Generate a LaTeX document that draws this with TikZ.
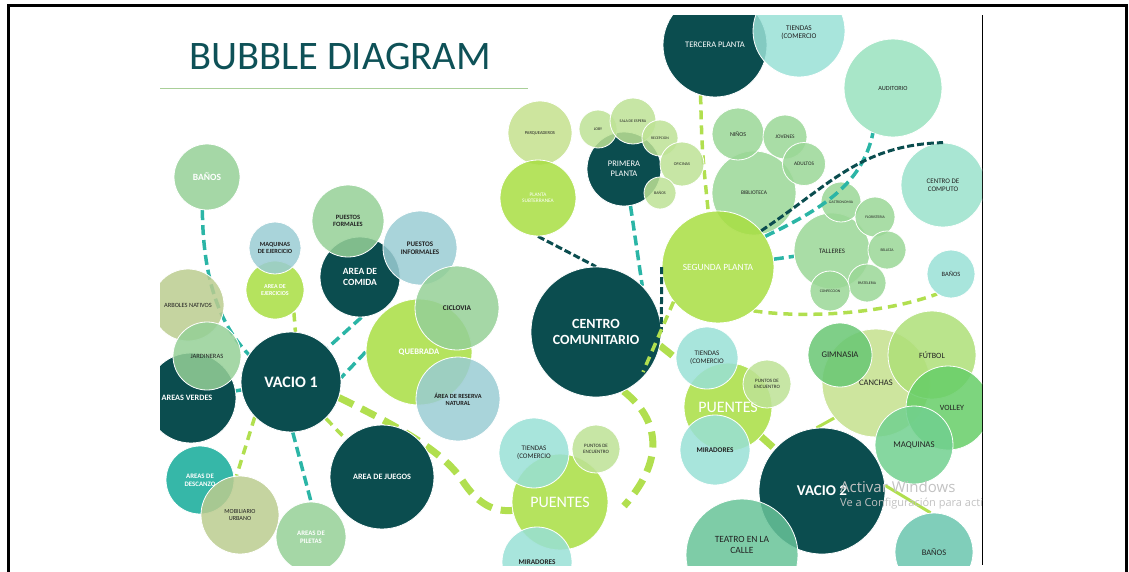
\documentclass[tikz,border=0pt]{standalone}
\usepackage{fontspec}
\setmainfont{Carlito}
\newfontfamily\winfont{Open Sans}
\usetikzlibrary{positioning}
\pgfdeclarelayer{back}
\pgfsetlayers{back,main}
\newcommand{\fsz}[1]{\fontsize{#1}{\fpeval{#1*1.15}}\selectfont}

\definecolor{darkteal}{HTML}{0B4D4F}
\definecolor{titlecol}{HTML}{0E5157}
\definecolor{rulecol}{HTML}{A9CF98}
\definecolor{inkcol}{HTML}{222222}
\definecolor{sagecol}{HTML}{95D097}
\definecolor{paleblue}{HTML}{9ACCD3}
\definecolor{khakicol}{HTML}{BBCC8F}
\definecolor{tealmid}{HTML}{2BB3A3}
\definecolor{limecol}{HTML}{A8DE42}
\definecolor{palelime}{HTML}{C4E08D}
\definecolor{lightlime}{HTML}{BDE295}
\definecolor{aquacol}{HTML}{99E0D6}
\definecolor{mintcol}{HTML}{99E2BE}
\definecolor{greencol}{HTML}{9AD796}
\definecolor{computocol}{HTML}{9AE2CB}
\definecolor{gimcol}{HTML}{68C773}
\definecolor{futcol}{HTML}{AEDF78}
\definecolor{volcol}{HTML}{66CE67}
\definecolor{maqcol}{HTML}{71D08F}
\definecolor{teatrocol}{HTML}{67C398}
\definecolor{banobrcol}{HTML}{6AC5AE}
\definecolor{dashteal}{HTML}{2BB5A6}
\definecolor{dashlime}{HTML}{B1DF4F}
\definecolor{wmarkcol}{HTML}{C2C2C2}

\tikzset{
  bubble/.style   = {circle, inner sep=0pt, draw=white, line width=0.8pt, fill opacity=0.85, text opacity=1, align=center, text=inkcol},
  rad/.style      = {minimum size=2*#1pt},
  wt/.style       = {text=white},
  dk/.style       = {bubble, fill=darkteal, fill opacity=1, text=white},
  lm/.style       = {bubble, fill=limecol, text=white},
  sg/.style       = {bubble, fill=sagecol},
  pb/.style       = {bubble, fill=paleblue},
  kh/.style       = {bubble, fill=khakicol},
  tl/.style       = {bubble, fill=tealmid, fill opacity=0.95, text=white},
  pl/.style       = {bubble, fill=palelime},
  ll/.style       = {bubble, fill=lightlime},
  aq/.style       = {bubble, fill=aquacol},
  mn/.style       = {bubble, fill=mintcol},
  gr/.style       = {bubble, fill=greencol},
  tealdash/.style = {draw=dashteal, line width=3.5pt, dash pattern=on 10pt off 5pt},
  limedash/.style = {draw=dashlime, line width=3.5pt, dash pattern=on 9pt off 6pt},
  darkdash/.style = {draw=darkteal, line width=3pt, dash pattern=on 7pt off 3pt},
  fatlime/.style  = {draw=dashlime, line width=7pt, dash pattern=on 16pt off 9pt},
  limeline/.style = {draw=dashlime, line width=3pt},
  wmark/.style    = {text=wmarkcol, anchor=west, inner sep=0pt}
}

\begin{document}
\begin{tikzpicture}[x=1pt,y=-1pt]
  \useasboundingbox (0,0) rectangle (1129,571);
  % frame
  \draw[line width=3pt] (8,580) -- (8,5) -- (1126,5) -- (1126,580);
  \draw[line width=0.8pt] (982,15) -- (982,565);

  \begin{scope}
    \clip (160,15) rectangle (982,565);
    \node[text=titlecol, font=\fsz{40.5}, inner sep=0pt] (title) at (340,57) {BUBBLE DIAGRAM};
    \draw[rulecol, line width=1pt] (160,88) -- (528,88);

    % vacio 1 group
    \node[sg, wt, rad=33, font=\fsz{9.5}\bfseries] (banosL) at (207,177) {BAÑOS};
    \node[kh, rad=36, font=\fsz{6.4}] (arboles) at (188,305) {ARBOLES NATIVOS};
    \node[dk, rad=45, font=\fsz{8.2}\bfseries] (verdes) at (191,398) {\hspace*{-8pt}AREAS VERDES};
    \node[sg, rad=34, font=\fsz{6.5}] (jardin) at (207,356) {JARDINERAS};
    \node[lm, rad=29, font=\fsz{6}\bfseries] (ejerc) at (275,290) {AREA DE\\EJERCICIOS};
    \node[pb, rad=26, font=\fsz{6.3}\bfseries] (maqEj) at (275,248) {MAQUINAS\\DE EJERCICIO};
    \node[dk, rad=40, font=\fsz{9.5}\bfseries] (comida) at (360,277) {AREA DE\\COMIDA};
    \node[sg, rad=36, font=\fsz{6.5}\bfseries] (formales) at (348,221) {PUESTOS\\FORMALES};
    \node[pb, rad=37, font=\fsz{7}\bfseries] (informales) at (420,248) {PUESTOS\\INFORMALES};
    \node[lm, rad=53, font=\fsz{8.5}\bfseries] (quebrada) at (419,352) {QUEBRADA};
    \node[sg, rad=42, font=\fsz{7.3}\bfseries] (ciclovia) at (457,308) {CICLOVIA};
    \node[pb, rad=42, font=\fsz{6.3}\bfseries] (reserva) at (458,399) {ÁREA DE RESERVA\\NATURAL};
    \node[dk, rad=50, font=\fsz{16}\bfseries] (vacio1) at (291,382) {VACIO 1};
    \node[dk, rad=52, font=\fsz{8.2}\bfseries] (juegos) at (382,477) {AREA DE JUEGOS};
    \node[tl, rad=34, font=\fsz{6.8}\bfseries] (descanzo) at (200,480) {AREAS DE\\DESCANZO};
    \node[kh, rad=39, font=\fsz{6.2}] (mobil) at (240,515) {MOBILIARIO\\URBANO};
    \node[sg, wt, rad=35, font=\fsz{6.8}\bfseries] (piletas) at (311,537) {AREAS DE\\PILETAS};

    % centro comunitario group
    \node[dk, rad=65, font=\fsz{14}\bfseries] (centro) at (596,332) {CENTRO\\COMUNITARIO};
    \node[pl, rad=32, font=\fsz{4.5}] (parq) at (540,133) {PARQUEADEROS};
    \node[lm, rad=38, font=\fsz{5.3}] (plantaSub) at (538,198) {PLANTA\\SUBTERRANEA};
    \node[dk, rad=37, font=\fsz{8.5}] (primera) at (624,169) {PRIMERA\\PLANTA};
    \node[ll, rad=19, font=\fsz{4}] (loby) at (598,129) {LOBY};
    \node[ll, rad=23, font=\fsz{4}] (sala) at (633,121) {SALA DE ESPERA};
    \node[ll, rad=18, font=\fsz{3.8}] (recep) at (660,138) {RECEPCION};
    \node[ll, rad=22, font=\fsz{4.2}] (oficinas) at (682,164) {OFICINAS};
    \node[ll, rad=16, font=\fsz{4}] (banosP) at (660,193) {BAÑOS};
    \node[dk, rad=52, font=\fsz{8.5}] (tercera) at (715,45) {TERCERA PLANTA};
    \node[aq, rad=46, font=\fsz{7.3}] (tiendasT) at (799,31) {\\TIENDAS\\(COMERCIO};
    \node[mn, rad=49, font=\fsz{6.3}] (auditorio) at (893,88) {AUDITORIO};
    \node[gr, rad=42, font=\fsz{5.5}] (biblio) at (754,193) {BIBLIOTECA};
    \node[gr, rad=26, font=\fsz{6}] (ninos) at (738,134) {NIÑOS};
    \node[gr, rad=22, font=\fsz{5.3}] (jovenes) at (785,137) {JOVENES};
    \node[gr, rad=21.5, font=\fsz{5.3}] (adultos) at (804,164) {ADULTOS};
    \node[bubble, fill=computocol, rad=42, font=\fsz{7}] (computo) at (943,185) {CENTRO DE\\COMPUTO};
    \node[lm, rad=56, font=\fsz{9.5}] (segunda) at (718,267) {SEGUNDA PLANTA};
    \node[gr, rad=38, font=\fsz{6.8}] (talleres) at (832,251) {TALLERES};
    \node[gr, rad=20, font=\fsz{3.8}] (gastro) at (841,202) {GASTRONOMIA};
    \node[gr, rad=20, font=\fsz{3.8}] (floris) at (875,217) {FLORISTERIA};
    \node[gr, rad=19, font=\fsz{3.8}] (belleza) at (887,250) {BELLEZA};
    \node[gr, rad=19, font=\fsz{3.8}] (pastel) at (867,283) {PASTELERIA};
    \node[gr, rad=20, font=\fsz{3.8}] (confec) at (830,291) {CONFECCION};
    \node[aq, rad=24, font=\fsz{6.5}] (banosR) at (951,274) {BAÑOS};

    % puentes
    \node[lm, rad=44, font=\fsz{16}] (puentesM) at (728,407) {PUENTES};
    \node[aq, rad=31, font=\fsz{7}] (tiendasM) at (707,358) {TIENDAS\\(COMERCIO};
    \node[ll, rad=24, font=\fsz{5}] (puntosM) at (767,384) {PUNTOS DE\\ENCUENTRO};
    \node[aq, rad=35, font=\fsz{7.2}\bfseries] (miradoresM) at (715,450) {MIRADORES};
    \node[lm, rad=48, font=\fsz{16}] (puentesB) at (560,502) {PUENTES};
    \node[aq, rad=35, font=\fsz{7}] (tiendasB) at (534,453) {TIENDAS\\(COMERCIO};
    \node[ll, rad=24, font=\fsz{5}] (puntosB) at (596,449) {PUNTOS DE\\ENCUENTRO};
    \node[aq, rad=35, font=\fsz{7.2}\bfseries] (miradoresB) at (537,562) {MIRADORES};

    % vacio 2 group
    \node[dk, rad=63, font=\fsz{15}\bfseries] (vacio2) at (822,491) {VACIO 2};
    \node[bubble, fill=teatrocol, rad=56, font=\fsz{9.5}, text depth=20pt] (teatro) at (742,555) {TEATRO EN LA\\CALLE};
    \node[pl, rad=54, font=\fsz{8.5}] (canchas) at (876,383) {CANCHAS};
    \node[bubble, fill=gimcol, rad=32, font=\fsz{8.7}] (gimnasia) at (840,355) {GIMNASIA};
    \node[bubble, fill=futcol, rad=44, font=\fsz{8}] (futbol) at (932,355) {FÚTBOL};
    \node[bubble, fill=volcol, rad=42, font=\fsz{8}] (volley) at (948,408) {\hspace*{8pt}VOLLEY};
    \node[bubble, fill=maqcol, rad=39, font=\fsz{8.8}] (maquinas) at (914,445) {MAQUINAS};
    \node[bubble, fill=banobrcol, rad=39, font=\fsz{8.5}] (banosBR) at (934,552) {BAÑOS};

    \coordinate (hook) at (624,506);
    \coordinate (cmEnd) at (643,372);
  \end{scope}

  \begin{pgfonlayer}{back}
    \clip (160,15) rectangle (982,565);
    \draw[tealdash] (banosL.262) .. controls (203,280) and (220,325) .. (vacio1.147);
    \draw[tealdash] (verdes) -- (vacio1);
    \draw[limedash] (ejerc.-50) -- (vacio1.85);
    \draw[tealdash] (comida.-88) -- (vacio1.43);
    \draw[tealdash] (quebrada.west) -- (vacio1.5);
    \draw[limedash] (vacio1.224) -- (mobil.95);
    \draw[tealdash] (vacio1.-88) -- (piletas.north);
    \draw[limedash] (vacio1) -- (juegos);
    \draw[fatlime] (vacio1.-18) .. controls (410,432) and (445,455) .. (462,480) .. controls (478,505) and (495,512) .. (puentesB.190);
    \draw[darkdash] (plantaSub.south) -- (centro.north);
    \draw[tealdash] (primera.-80) -- (centro.45);
    \draw[fatlime] (centro.-12) -- (tiendasM.west);
    \draw[fatlime] (centro.-65) .. controls (660,420) and (665,460) .. (hook);
    \draw[fatlime] (puentesM) -- (vacio2);
    \draw[limeline] (canchas.220) -- (vacio2.95);
    \draw[limeline] (vacio2.5) -- (banosBR.95);
    \draw[limedash] (tercera.254) .. controls (702,150) .. (segunda.100);
    \draw[tealdash] (segunda) -- (talleres);
    \draw[limedash] (segunda.-51) .. controls (800,318) and (880,315) .. (banosR.235);
  \end{pgfonlayer}

  \begin{scope}
    \clip (160,15) rectangle (982,565);
    \draw[darkdash] (segunda.west) -- (centro.east);
    \draw[limedash] (segunda.218) -- (cmEnd);
    \draw[tealdash] (segunda.33) .. controls (820,210) and (862,185) .. (auditorio.246);
    \draw[darkdash] (segunda.40) .. controls (830,185) and (860,145) .. (computo.north);
    % watermark
    \node[wmark, font=\winfont\fontsize{15}{17}\selectfont] (actv) at (840,487) {Activar Windows};
    \node[wmark, font=\winfont\fontsize{11}{13}\selectfont] (config) at (840,504) {Ve a Configuración para activar Windows.};
  \end{scope}
\end{tikzpicture}
\end{document}
